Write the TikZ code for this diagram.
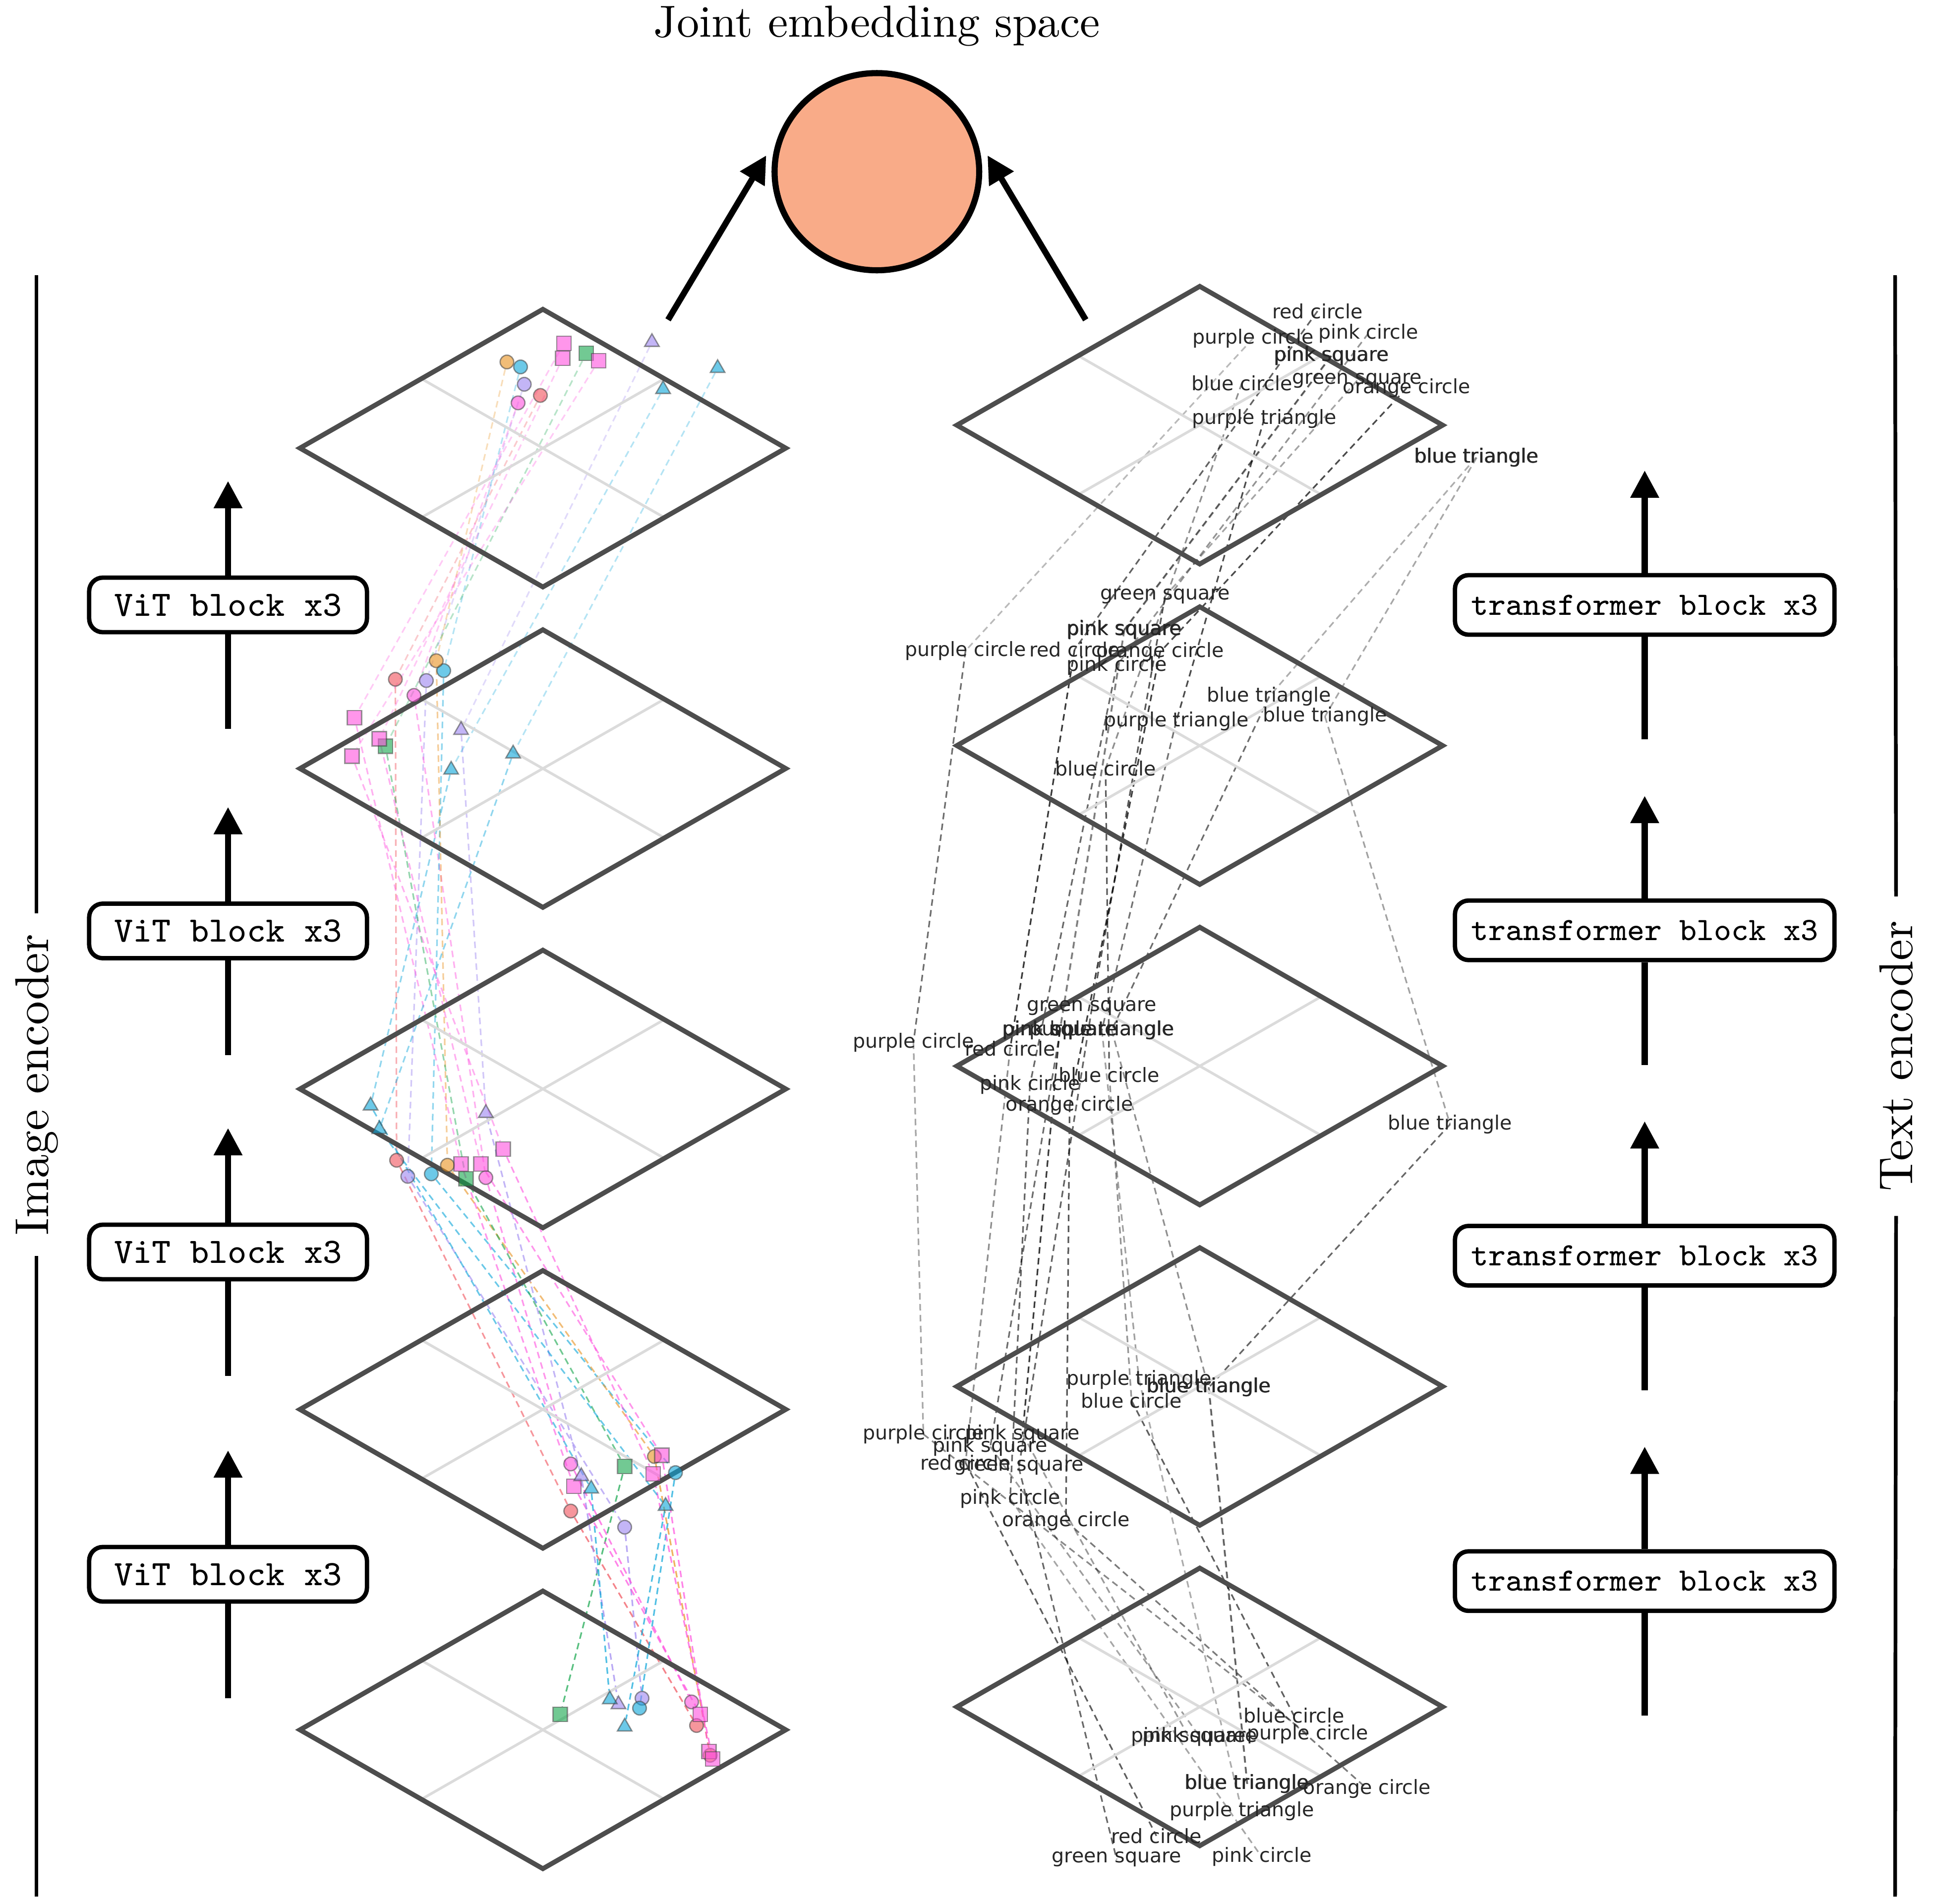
\documentclass[tikz,border=0pt]{standalone}
\usepackage{fontspec}
\newfontfamily\lblfont{DejaVu Sans}
\usetikzlibrary{shapes.geometric,backgrounds,arrows.meta}

\definecolor{embfill}{RGB}{249,171,136}
\definecolor{mpink}{RGB}{255,80,222}
\definecolor{mgreen}{RGB}{20,165,75}
\definecolor{morange}{RGB}{232,145,30}
\definecolor{mblue}{RGB}{10,165,217}
\definecolor{mpurple}{RGB}{155,132,240}
\definecolor{mred}{RGB}{240,80,90}
\definecolor{planegray}{RGB}{77,77,77}

\tikzset{
    plane/.style={draw=planegray, line width=1.1pt},
    planegrid/.style={draw=black!14, line width=0.6pt},
    blockbox/.style={draw, line width=1pt, rounded corners=0.11cm, fill=white, inner sep=0pt},
    vitbox/.style={blockbox, minimum width=2.24cm, minimum height=0.44cm, font=\fontsize{8.2}{9}\selectfont\ttfamily},
    tfbox/.style={blockbox, minimum width=3.06cm, minimum height=0.48cm, font=\fontsize{7.5}{9}\selectfont\ttfamily},
    stem/.style={line width=1.4pt},
    uparrow/.style={line width=1.4pt, -{Triangle[length=0.22cm, width=0.22cm]}},
    sideline/.style={line width=0.85pt},
    sidetext/.style={rotate=90, font=\fontsize{10.9}{12}\selectfont, inner ysep=0pt},
    lbl/.style={font=\lblfont\fontsize{4.5}{5}\selectfont, text=black!85, inner sep=0pt},
    mk/.style={draw=black!75, draw opacity=0.55, line width=0.3pt, fill opacity=0.6, inner sep=0pt},
    circ/.style={mk, circle, minimum size=0.11cm},
    sq/.style={mk, rectangle, minimum size=0.115cm},
    tri/.style={mk, regular polygon, regular polygon sides=3, minimum size=0.135cm},
    ldash/.style={line width=0.37pt, dash pattern=on 1.5pt off 1pt},
    rdash/.style={line width=0.37pt, dash pattern=on 1.5pt off 1pt, draw=black},
}

\begin{document}
\begin{tikzpicture}[x=0.01cm, y=-0.01cm]
            \useasboundingbox (0,0) rectangle (1559.6,1536);

            \node[font=\fontsize{10.3}{12}\selectfont] (title) at (707.5,21) {Joint embedding space};
            \node[ellipse, draw, line width=1.4pt, fill=embfill, minimum width=1.65cm, minimum height=1.59cm, inner sep=0pt] (emb) at (707.5,138.5) {};
            \coordinate (ltail) at (539,258);
            \coordinate (rtail) at (876,258);
            \draw[uparrow, shorten >=0.2cm] (ltail) -- (emb.159);
            \draw[uparrow, shorten >=0.2cm] (rtail) -- (emb.21);

            \node[sidetext, inner xsep=0.16cm] (imgenc) at (29.5,875) {Image encoder};
            \coordinate (imgtop) at (29.5,222);
            \coordinate (imgbot) at (29.5,1530);
            \draw[sideline] (imgtop) -- (imgenc);
            \draw[sideline] (imgenc) -- (imgbot);

            \node[sidetext, inner xsep=0.19cm] (txtenc) at (1530,852) {Text encoder};
            \coordinate (txttop) at (1529,222);
            \coordinate (txtbot) at (1529,1530);
            \draw[sideline] (txttop) -- (txtenc);
            \draw[sideline] (txtenc) -- (txtbot);

            \foreach \y in {361.5,620,878.5,1137,1395.5} {
                \draw[planegrid] (438-98,\y-56) -- (438+98,\y+56);
                \draw[planegrid] (438+98,\y-56) -- (438-98,\y+56);
                \draw[plane] (438-196,\y) -- (438,\y-112) -- (438+196,\y) -- (438,\y+112) -- cycle;
            }
            \foreach \y in {343,601.5,860,1118.5,1377} {
                \draw[planegrid] (968-98,\y-56) -- (968+98,\y+56);
                \draw[planegrid] (968+98,\y-56) -- (968-98,\y+56);
                \draw[plane] (968-196,\y) -- (968,\y-112) -- (968+196,\y) -- (968,\y+112) -- cycle;
            }

            \foreach \y [count=\i] in {488,751,1010,1270} {
                \node[vitbox] (vit\i) at (184,\y) {ViT block x3};
                \coordinate (vitlo\i) at (184,\y+100);
                \coordinate (vithi\i) at (184,\y-100);
                \draw[stem] (vitlo\i) -- (vit\i);
                \draw[uparrow] (vit\i) -- (vithi\i);
            }
            \foreach \y [count=\i] in {488,750.5,1013,1275.5} {
                \node[tfbox] (tf\i) at (1327,\y) {transformer block x3};
                \coordinate (tflo\i) at (1327,\y+108.5);
                \coordinate (tfhi\i) at (1327,\y-108.5);
                \draw[stem] (tflo\i) -- (tf\i);
                \draw[uparrow] (tf\i) -- (tfhi\i);
            }

            \foreach \shp/\col/\pa/\pb/\pc/\pd/\pe [count=\k] in {
                circ/mred/{436,319}/{319,548}/{320,936}/{460.5,1219}/{562,1392},
                circ/mpurple/{423,310}/{344,549}/{329,949}/{504,1232}/{518,1370},
                circ/mpink/{418,325}/{334,561}/{392,950}/{460.5,1181}/{558,1373},
                circ/mblue/{420,296}/{358,541}/{348,947}/{545,1188}/{516,1378},
                circ/morange/{409,292}/{352,533}/{361,940}/{528,1175}/{573,1416},
                sq/mgreen/{473,285}/{311,602}/{376,951}/{504,1183}/{452,1383},
                sq/mpink/{455,277}/{286,579}/{372,939}/{463,1199}/{565,1383},
                sq/mpink/{454,289}/{306,596}/{388,939}/{534,1174}/{572,1413},
                sq/mpink/{483,291}/{284,610}/{406,927}/{527,1189}/{575,1419},
                tri/mpurple/{526,276}/{372,589}/{392,898}/{469,1191}/{499,1375},
                tri/mblue/{535,314}/{364,621}/{299,892}/{477,1201}/{492,1371},
                tri/mblue/{579,297}/{414,608}/{306,911}/{537,1215}/{504,1393}} {
                \node[\shp, fill=\col] (L1-\k) at (\pa) {};
                \node[\shp, fill=\col] (L2-\k) at (\pb) {};
                \node[\shp, fill=\col] (L3-\k) at (\pc) {};
                \node[\shp, fill=\col] (L4-\k) at (\pd) {};
                \node[\shp, fill=\col] (L5-\k) at (\pe) {};
                \begin{scope}[on background layer]
                    \draw[ldash, draw=\col, opacity=0.3] (L1-\k) -- (L2-\k);
                    \draw[ldash, draw=\col, opacity=0.45] (L2-\k) -- (L3-\k);
                    \draw[ldash, draw=\col, opacity=0.6] (L3-\k) -- (L4-\k);
                    \draw[ldash, draw=\col, opacity=0.7] (L4-\k) -- (L5-\k);
                \end{scope}
            }

            \pgfmathsetseed{11}
            \foreach \nm/\pa/\pb/\pc/\pd/\pe [count=\k] in {
                red circle/{1063,251}/{867,524}/{815,846}/{779,1180}/{933,1481},
                purple circle/{1011,273}/{779,525}/{737,841}/{745,1157}/{1055,1399},
                pink circle/{1104,269}/{901,537}/{831,875}/{815,1209}/{1018,1498},
                blue circle/{1002,309}/{892,620}/{895,867}/{913,1130}/{1044,1384},
                orange circle/{1135,313}/{936,526}/{863,892}/{860,1227}/{1103,1443},
                green square/{1095,307}/{940,481}/{881,813}/{822,1184}/{901,1500},
                pink square/{1074,287}/{907,508}/{855,831}/{825,1157}/{959,1401},
                pink square/{1074.4,287.2}/{907.4,508.2}/{855.4,831.2}/{799,1167}/{968,1401},
                purple triangle/{1020,338}/{949,582}/{889,831}/{919,1113}/{1002,1461},
                blue triangle/{1191,369}/{1024,562}/{897,831}/{975,1119}/{1006,1439},
                blue triangle/{1191.4,369.2}/{1069,578}/{1170,907}/{975.4,1119.2}/{1006.4,1439.2}} {
                \node[lbl] (R1-\k) at (\pa) {\nm};
                \node[lbl] (R2-\k) at (\pb) {\nm};
                \node[lbl] (R3-\k) at (\pc) {\nm};
                \node[lbl] (R4-\k) at (\pd) {\nm};
                \node[lbl] (R5-\k) at (\pe) {\nm};
                \begin{scope}[on background layer]
                    \foreach \p/\q in {1/2,2/3,3/4,4/5} {
                        \pgfmathsetmacro\op{0.25+0.55*rnd}
                        \draw[rdash, opacity=\op] (R\p-\k.center) -- (R\q-\k.center);
                    }
                \end{scope}
            }
        \end{tikzpicture}
\end{document}
